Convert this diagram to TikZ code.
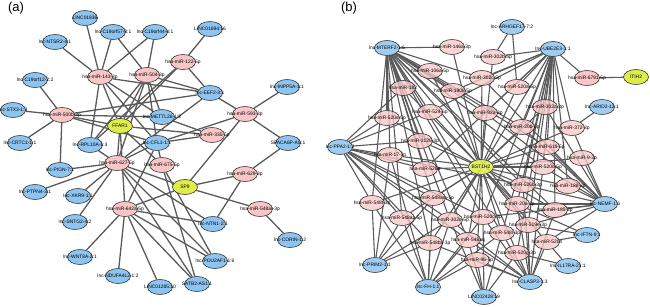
\documentclass[tikz,border=0pt]{standalone}
\usepackage{fontspec}
\setmainfont{Liberation Sans}
\usetikzlibrary{shapes.geometric,backgrounds}
\definecolor{pinkc}{HTML}{F8C6C6}
\definecolor{bluec}{HTML}{8EC4F0}
\definecolor{yelc}{HTML}{DDEC4A}
\definecolor{edgec}{HTML}{5A5A5A}
\tikzset{
  nd/.style={ellipse, draw=black!85, line width=0.55pt, minimum width=25pt, minimum height=15pt, inner sep=0pt},
  pk/.style={nd, fill=pinkc},
  bl/.style={nd, fill=bluec},
  yl/.style={nd, fill=yelc},
  pkb/.style={nd, fill=pinkc, fill opacity=0.78},
  blb/.style={nd, fill=bluec, fill opacity=0.85},
  ylb/.style={nd, fill=yelc, fill opacity=0.85},
  lab/.style={inner sep=0pt, font=\fontsize{4.9}{5}\selectfont, text=black},
  ed/.style={draw=edgec, line width=1.3pt},
  edb/.style={draw=edgec, line width=1.1pt},
  ptitle/.style={inner sep=0pt, font=\fontsize{13}{14}\selectfont}
}
\newcommand\mynd[5]{\node[#1] (#2) at (#3,#4) {}; \node[lab] at (#2.center) {#5};}
\begin{document}
\begin{tikzpicture}[x=1pt,y=-1pt]
\useasboundingbox (0,0) rectangle (650,307);
\node[ptitle] (ta) at (16,8) {(a)};
\node[ptitle] (tb) at (349,8) {(b)};
% ---------------- panel (a) ----------------
\mynd{bl}{L1836}{85}{18}{LINC01836}
\mynd{bl}{C57}{113}{32}{lnc-C19orf57-8:1}
\mynd{bl}{C44}{155}{32}{lnc-C19orf44-4:1}
\mynd{bl}{L1694}{210}{29}{LINC01694:16}
\mynd{bl}{NTSR2}{55}{42}{lnc-NTSR2-4:1}
\mynd{pk}{m143}{100}{77}{hsa-miR-143-3p}
\mynd{pk}{m504}{147}{75}{hsa-miR-504-3p}
\mynd{pk}{m122}{183}{62}{hsa-miR-122-5p}
\mynd{bl}{C12}{35}{80}{lnc-C19orf12-2:2}
\mynd{bl}{EEF2}{210}{93}{lnc-EEF2-3:1}
\mynd{bl}{INPP5A}{287}{87}{lnc-INPP5A-1:1}
\mynd{bl}{STX3}{13}{110}{lnc-STX3-1:3}
\mynd{pk}{m500b}{62}{115}{hsa-miR-500b-3p}
\mynd{pk}{m593}{245}{114}{hsa-miR-593-3p}
\mynd{bl}{METTL26}{162}{117}{lnc-METTL26-1:3}
\mynd{yl}{FFAR1}{120}{126}{FFAR1}
\mynd{pk}{m335}{212}{135}{hsa-miR-335-5p}
\mynd{bl}{CRTC1}{20}{143}{lnc-CRTC1-1:1}
\mynd{bl}{RPL10A}{90}{145}{lnc-RPL10A-1:3}
\mynd{bl}{CFL1}{157}{143}{lnc-CFL1-1:1}
\mynd{bl}{SPACA6P}{288}{143}{SPACA6P-AS:1}
\mynd{pk}{m627}{117}{163}{hsa-miR-627-5p}
\mynd{pk}{m675}{162}{165}{hsa-miR-675-5p}
\mynd{bl}{PIGN}{60}{170}{lnc-PIGN-7:1}
\mynd{pk}{m629}{245}{174}{hsa-miR-629-3p}
\mynd{yl}{SP9}{185}{187}{SP9}
\mynd{bl}{PTPN4}{35}{192}{lnc-PTPN4-3:1}
\mynd{bl}{XKR9}{78}{196}{lnc-XKR9-1:1}
\mynd{pk}{m642}{125}{209}{hsa-miR-642a-5p}
\mynd{pk}{m548ar}{260}{209}{hsa-miR-548ar-3p}
\mynd{bl}{SNTG2}{75}{222}{lnc-SNTG2-4:2}
\mynd{bl}{NTN1}{213}{224}{lnc-NTN1-2:1}
\mynd{bl}{CORIN}{290}{240}{lnc-CORIN-1:2}
\mynd{bl}{WNT8A}{80}{257}{lnc-WNT8A-2:1}
\mynd{bl}{POU2AF1}{215}{261}{lnc-POU2AF1-1:6}
\mynd{bl}{NDUFA4L2}{118}{276}{lnc-NDUFA4L2-1:2}
\mynd{bl}{SATB2}{197}{284}{SATB2-AS1:1}
\mynd{bl}{L1285}{160}{287}{LINC01285:10}
% ---------------- panel (b) ----------------
\mynd{blb}{MTERF2}{387}{48}{lnc-MTERF2-1:6}
\mynd{blb}{ARHGEF17}{512}{27}{lnc-ARHGEF17-7:2}
\mynd{blb}{UBE2E3}{553}{49}{lnc-UBE2E3-1:1}
\mynd{blb}{ARID2}{602}{107}{lnc-ARID2-12:1}
\mynd{blb}{PPA2}{340}{147}{lnc-PPA2-1:2}
\mynd{blb}{NEMF}{605}{204}{lnc-NEMF-1:6}
\mynd{blb}{IFTN}{587}{235}{lnc-IFTN-9:1}
\mynd{blb}{IL17RA}{568}{266}{lnc-IL17RA-21:1}
\mynd{blb}{CLASP2}{530}{282}{lnc-CLASP2-1:3}
\mynd{blb}{L2428}{484}{297}{LINC02428:19}
\mynd{blb}{FH}{428}{287}{lnc-FH-1:1}
\mynd{blb}{PRIM2}{375}{265}{lnc-PRIM2-1:1}
\mynd{ylb}{G1}{481}{167}{BST1H2}
\mynd{yl}{ITIH2}{636}{77}{ITIH2}
\mynd{pkb}{b1}{452}{47}{hsa-miR-146a-3p}
\mynd{pkb}{b2}{493}{57}{hsa-miR-302b-5p}
\mynd{pkb}{b3}{430}{71}{hsa-miR-106a-5p}
\mynd{pkb}{b4}{482}{78}{hsa-miR-302c-5p}
\mynd{pkb}{b5}{517}{87}{hsa-miR-520a-5p}
\mynd{pk}{b6}{587}{78}{hsa-miR-6791-5p}
\mynd{pkb}{b7}{403}{88}{hsa-miR-182}
\mynd{pkb}{b8}{453}{91}{hsa-miR-1908-5p}
\mynd{pkb}{b9}{430}{112}{hsa-miR-524-5p}
\mynd{pkb}{b10}{485}{113}{hsa-miR-92a-3p}
\mynd{pkb}{b11}{545}{107}{hsa-miR-302a-3p}
\mynd{pkb}{b12}{387}{118}{hsa-miR-520e-5p}
\mynd{pkb}{b13}{420}{141}{hsa-miR-3120-3p}
\mynd{pkb}{b14}{522}{127}{hsa-miR-20b-5p}
\mynd{pkb}{b15}{572}{128}{hsa-miR-372-3p}
\mynd{pkb}{b16}{547}{147}{hsa-miR-619-5p}
\mynd{pkb}{b17}{390}{155}{hsa-miR-17-3p}
\mynd{pkb}{b18}{425}{169}{hsa-miR-526a}
\mynd{pkb}{b19}{582}{158}{hsa-miR-9-3p}
\mynd{pkb}{b20}{543}{167}{hsa-miR-520d-5p}
\mynd{pkb}{b21}{523}{185}{hsa-miR-526b-3p}
\mynd{pkb}{b22}{568}{186}{hsa-miR-188-3p}
\mynd{pkb}{b23}{517}{204}{hsa-miR-20a-3p}
\mynd{pkb}{b24}{555}{210}{hsa-miR-185-3p}
\mynd{pkb}{b25}{483}{217}{hsa-miR-520c-3p}
\mynd{pkb}{b26}{528}{225}{hsa-miR-519e-3p}
\mynd{pkb}{b27}{502}{233}{hsa-miR-548l-3p}
\mynd{pkb}{b28}{547}{242}{hsa-miR-520h}
\mynd{pkb}{b29}{517}{253}{hsa-miR-520g-3p}
\mynd{pkb}{b30}{477}{260}{hsa-miR-96-5p}
\mynd{pkb}{b31}{468}{240}{hsa-miR-548aq}
\mynd{pkb}{b32}{430}{243}{hsa-miR-548ba-3p}
\mynd{pkb}{b33}{450}{220}{hsa-miR-302e-5p}
\mynd{pkb}{b34}{433}{198}{hsa-miR-548am-5p}
\mynd{pkb}{b35}{402}{218}{hsa-miR-548az-5p}
\mynd{pkb}{b36}{372}{203}{hsa-miR-548t-3p}
\begin{pgfonlayer}{background}
% edges (a)
\foreach \t in {L1836,C57,C44,NTSR2,FFAR1,RPL10A,METTL26,EEF2,CFL1}
  \draw[ed] (m143) -- (\t);
\foreach \t in {C57,C44,FFAR1,METTL26,CFL1,RPL10A,EEF2,m627}
  \draw[ed] (m504) -- (\t);
\foreach \t in {C12,STX3,CRTC1,PIGN,FFAR1,EEF2,METTL26,CFL1}
  \draw[ed] (m500b) -- (\t);
\foreach \t in {L1694,EEF2,FFAR1,RPL10A}
  \draw[ed] (m122) -- (\t);
\foreach \t in {INPP5A,SPACA6P,EEF2,CFL1,SP9}
  \draw[ed] (m593) -- (\t);
\foreach \t in {CFL1,METTL26,FFAR1}
  \draw[ed] (m335) -- (\t);
\foreach \t in {PIGN,PTPN4,XKR9,SNTG2,RPL10A,FFAR1,CFL1,EEF2,NTN1,POU2AF1,SATB2,SP9}
  \draw[ed] (m627) -- (\t);
\foreach \t in {WNT8A,NDUFA4L2,L1285,CFL1,FFAR1,NTN1,POU2AF1,SATB2,SP9}
  \draw[ed] (m642) -- (\t);
\foreach \t in {CFL1,FFAR1,POU2AF1,SATB2}
  \draw[ed] (m675) -- (\t);
\foreach \t in {SP9,NTN1,SPACA6P}
  \draw[ed] (m629) -- (\t);
\foreach \t in {SP9,CORIN}
  \draw[ed] (m548ar) -- (\t);
% edges (b)
\foreach \t in {b1,b2,b3,b4,b5,b7,b8,b9,b10,b11,b12,b13,b14,b15,b16,b17,b18,b19,b20,b21,b22,b23,b24,b25,b26,b27,b28,b29,b30,b31,b32,b33,b34,b35,b36}
  \draw[edb] (G1) -- (\t);
\foreach \t in {b1,b3,b7,b8,b9,b12,b13,b4,b10,b17,b18,b36,b35,b34,b33,b32,b25,b14,b21,b23,b31,b16,b20,b24,b27}
  \draw[edb] (MTERF2) -- (\t);
\foreach \t in {b2,b4,b5,b8,b10,b11,b14,b15,b16,b20,b21,b23,b25,b9,b18,b33,b6,b29,b26,b22,b24,b27}
  \draw[edb] (UBE2E3) -- (\t);
\foreach \t in {b2,b5}
  \draw[edb] (ARHGEF17) -- (\t);
\draw[edb] (ITIH2) -- (b6);
\draw[edb] (ARID2) -- (b15);
\foreach \t in {b12,b17,b36,b35,b18,b34,b33,b9,b13,b32,b25,b7,b21,b31}
  \draw[edb] (PPA2) -- (\t);
\foreach \t in {b19,b20,b21,b22,b24,b23,b26,b28,b16,b15,b14,b11,b10,b25,b4}
  \draw[edb] (NEMF) -- (\t);
\foreach \t in {b26,b28,b23}
  \draw[edb] (IFTN) -- (\t);
\foreach \t in {b28,b29}
  \draw[edb] (IL17RA) -- (\t);
\foreach \t in {b23,b25,b26,b27,b28,b29,b30,b31,b33,b24,b21,b20,b32}
  \draw[edb] (CLASP2) -- (\t);
\foreach \t in {b30,b31,b27,b29,b25,b33}
  \draw[edb] (L2428) -- (\t);
\foreach \t in {b32,b34,b35,b36,b31,b33,b30,b27,b25,b17}
  \draw[edb] (FH) -- (\t);
\foreach \t in {b36,b35,b34,b32,b17,b33}
  \draw[edb] (PRIM2) -- (\t);
\end{pgfonlayer}
\end{tikzpicture}
\end{document}
